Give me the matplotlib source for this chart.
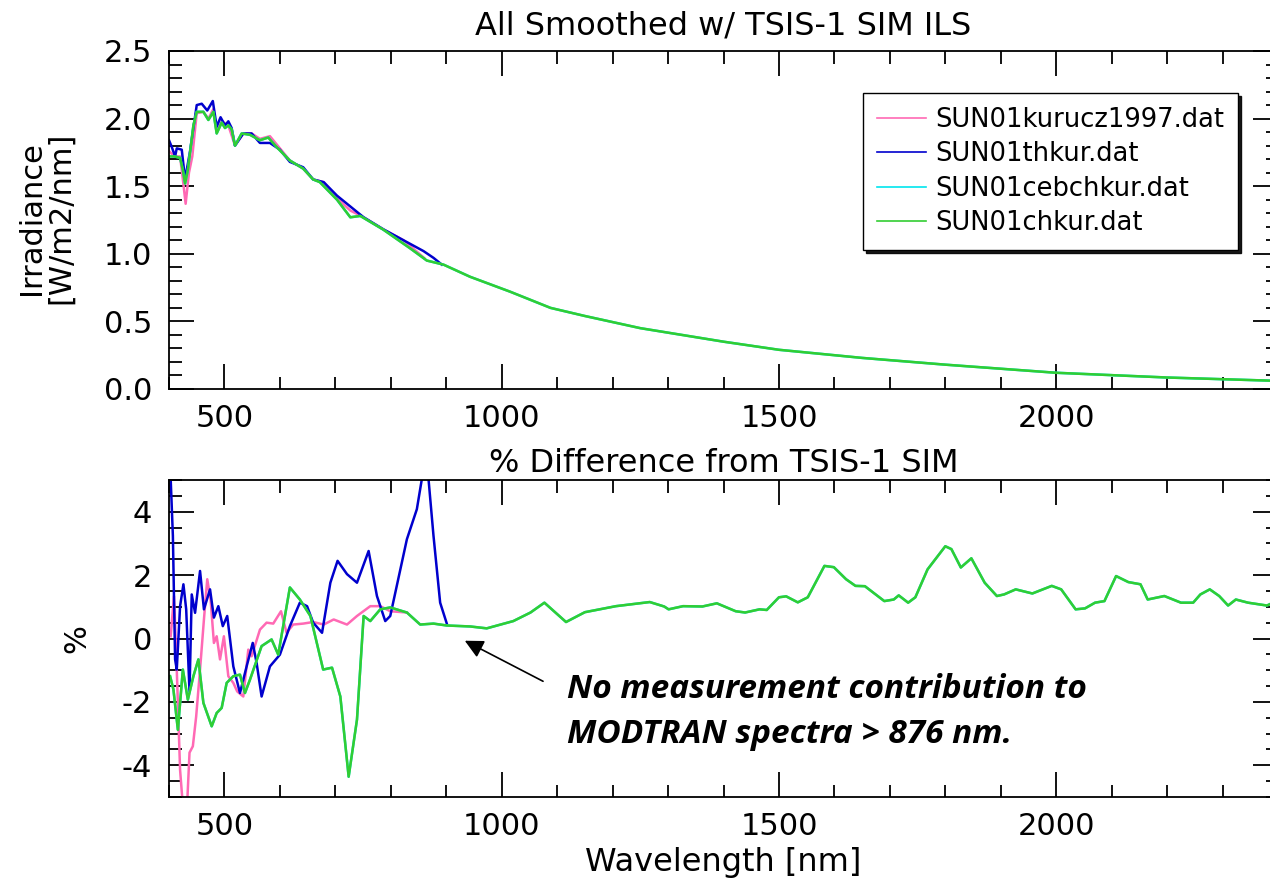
import numpy as np
import matplotlib
matplotlib.use("Agg")
import matplotlib.pyplot as plt
from matplotlib.ticker import MultipleLocator, FormatStrFormatter

plt.rcParams['font.family'] = ['DejaVu Sans']
plt.rcParams['axes.unicode_minus'] = False

# --- top panel: irradiance (W/m2/nm) ---
green_wl = [400, 410, 420, 425, 429, 434, 438, 444, 450, 462, 471, 480, 486, 495, 501, 507, 513, 519, 531, 546,
            564, 579, 594, 618, 642, 660, 672, 703, 727, 745, 786, 835, 865, 895, 943, 1015, 1088, 1150, 1250, 1400,
            1500, 1650, 1800, 2000, 2200, 2400]
green_irr = [1.72, 1.72, 1.71, 1.62, 1.52, 1.62, 1.75, 1.95, 2.05, 2.05, 1.99, 2.05, 1.89, 1.97, 1.93, 1.95, 1.92, 1.80, 1.89, 1.88,
             1.84, 1.86, 1.79, 1.69, 1.63, 1.55, 1.53, 1.40, 1.27, 1.28, 1.18, 1.04, 0.95, 0.92, 0.83, 0.72, 0.60, 0.54, 0.45, 0.35,
             0.29, 0.23, 0.18, 0.12, 0.085, 0.06]

blue_wl = [400, 405, 411, 414, 423, 429, 438, 450, 459, 469, 479, 486, 493, 501, 507, 513, 519, 534, 549, 564,
           582, 600, 618, 642, 660, 679, 703, 727, 751, 787, 823, 859, 877, 892]
blue_irr = [1.84, 1.79, 1.72, 1.78, 1.77, 1.55, 1.76, 2.10, 2.11, 2.06, 2.13, 1.94, 2.01, 1.95, 1.98, 1.93, 1.80, 1.89, 1.89, 1.82,
            1.82, 1.77, 1.68, 1.64, 1.55, 1.53, 1.43, 1.35, 1.27, 1.18, 1.10, 1.02, 0.97, 0.92]

pink_wl = [400, 410, 420, 425, 430, 436, 442, 450, 462, 471, 480, 486, 495, 507, 519, 534, 549, 564, 582, 600,
           618, 642, 660, 679, 703, 727, 751, 787, 823, 860]
pink_irr = [1.76, 1.72, 1.72, 1.55, 1.37, 1.60, 1.72, 2.04, 2.05, 2.00, 2.07, 1.90, 1.98, 1.95, 1.80, 1.89, 1.89, 1.85, 1.87, 1.78,
            1.69, 1.63, 1.55, 1.53, 1.41, 1.32, 1.27, 1.18, 1.10, 0.97]

# --- bottom panel: % difference from TSIS-1 SIM ---
green_dwl = [402, 408, 416, 425, 434, 444, 453, 462, 477, 486, 495, 504, 516, 528, 537, 546, 567, 585, 597, 618,
             636, 655, 678, 694, 709, 724, 739, 751, 763, 781, 799, 829, 853, 877, 901, 943, 973, 1021, 1052, 1077,
             1116, 1150, 1206, 1267, 1293, 1301, 1327, 1362, 1388, 1422, 1439, 1465, 1478, 1500, 1513, 1534, 1552, 1582, 1599, 1621,
             1638, 1655, 1690, 1707, 1716, 1733, 1746, 1768, 1800, 1811, 1828, 1847, 1871, 1893, 1906, 1927, 1957, 1992, 2009, 2035,
             2052, 2070, 2087, 2108, 2130, 2152, 2165, 2195, 2225, 2247, 2260, 2277, 2294, 2310, 2324, 2346, 2380, 2400]
green_pct = [-1.19, -1.61, -2.88, -0.98, -1.93, -1.19, -0.66, -2.03, -2.77, -2.35, -2.19, -1.40, -1.19, -1.14, -1.72, -1.30, -0.24, -0.03, -0.51, 1.61,
             1.23, 0.71, -0.98, -0.92, -1.83, -4.36, -2.56, 0.71, 0.55, 0.92, 0.98, 0.82, 0.44, 0.47, 0.41, 0.38, 0.32, 0.55, 0.82, 1.13,
             0.52, 0.83, 1.02, 1.15, 1.01, 0.92, 1.02, 1.01, 1.11, 0.86, 0.82, 0.92, 0.90, 1.30, 1.33, 1.14, 1.30, 2.29, 2.25, 1.87,
             1.66, 1.65, 1.18, 1.23, 1.36, 1.13, 1.30, 2.18, 2.91, 2.82, 2.24, 2.53, 1.76, 1.34, 1.39, 1.55, 1.42, 1.66, 1.55, 0.92,
             0.95, 1.13, 1.18, 1.97, 1.78, 1.71, 1.23, 1.34, 1.13, 1.13, 1.39, 1.55, 1.34, 1.04, 1.23, 1.13, 1.04, 1.2]

blue_dwl = [400, 402, 407, 411, 414, 420, 426, 431, 437, 441, 447, 456, 463, 474, 481, 489, 497, 505, 516, 528,
            540, 551, 558, 567, 582, 600, 618, 636, 649, 660, 676, 691, 704, 721, 739, 760, 775, 790, 799, 829,
            847, 856, 862, 868, 877, 889, 901]
blue_pct = [6.0, 5.5, 3.24, -0.66, -0.98, 1.02, 1.71, 0.92, -1.67, 1.39, 0.81, 2.13, 0.92, 1.55, 0.66, 1.02, 0.39, 0.71, -0.88, -1.72,
            -0.88, -0.14, -0.77, -1.83, -0.88, -0.51, 0.39, 1.13, 1.02, 0.50, 0.18, 1.76, 2.45, 2.03, 1.76, 2.76, 1.34, 0.55, 0.71, 3.13,
            4.08, 5.03, 5.3, 5.03, 3.24, 1.13, 0.47]

pink_dwl = [403, 409, 414, 420, 426, 432, 437, 443, 449, 456, 463, 469, 475, 481, 486, 492, 499, 507, 516, 523,
            534, 543, 549, 564, 576, 588, 602, 612, 624, 642, 660, 679, 697, 721, 739, 763, 781, 799, 829]
pink_pct = [0.07, 1.34, -0.98, -4.15, -5.5, -5.5, -3.6, -3.4, -2.46, -0.98, 0.60, 1.87, 1.23, -0.14, 0.07, -0.66, 0.07, -1.19, -1.40, -1.67,
            -1.83, -0.35, -0.56, 0.28, 0.50, 0.47, 0.86, 0.18, 0.44, 0.47, 0.52, 0.44, 0.60, 0.44, 0.71, 1.02, 1.02, 0.86, 0.82]

labels = ['SUN01kurucz1997.dat', 'SUN01thkur.dat', 'SUN01cebchkur.dat', 'SUN01chkur.dat']
colors = ['#ff69b4', '#0000cd', '#00e5ee', '#32cd32']

W, H = 1270, 880
fig = plt.figure(figsize=(W / 100, H / 100), dpi=100)
ax1 = fig.add_axes([169 / W, 1 - 389 / H, (1278 - 169) / W, 338 / H])
ax2 = fig.add_axes([169 / W, 1 - 797 / H, (1278 - 169) / W, 317 / H])

lw = 1.8
ax1.plot(pink_wl, pink_irr, color=colors[0], lw=lw, label=labels[0])
ax1.plot(blue_wl, blue_irr, color=colors[1], lw=lw, label=labels[1])
ax1.plot(green_wl, green_irr, color=colors[2], lw=lw, label=labels[2])
ax1.plot(green_wl, green_irr, color=colors[3], lw=lw, label=labels[3])

ax2.plot(pink_dwl, pink_pct, color=colors[0], lw=lw)
ax2.plot(blue_dwl, blue_pct, color=colors[1], lw=lw)
ax2.plot(green_dwl, green_pct, color=colors[2], lw=lw)
ax2.plot(green_dwl, green_pct, color=colors[3], lw=lw)

for ax in (ax1, ax2):
    ax.set_xlim(400, 2400)
    ax.xaxis.set_major_locator(MultipleLocator(500))
    ax.xaxis.set_minor_locator(MultipleLocator(100))
    ax.tick_params(which='both', direction='in', top=True, right=True, width=1.3, labelsize=22)
    ax.tick_params(which='major', length=18)
    ax.tick_params(which='minor', length=9)
    ax.tick_params(axis='x', pad=11)
    ax.tick_params(axis='y', pad=12)
    for s in ax.spines.values():
        s.set_linewidth(1.3)

ax1.set_ylim(0, 2.5)
ax1.yaxis.set_major_locator(MultipleLocator(0.5))
ax1.yaxis.set_minor_locator(MultipleLocator(0.1))
ax1.yaxis.set_major_formatter(FormatStrFormatter('%.1f'))
ax1.set_title('All Smoothed w/ TSIS-1 SIM ILS', fontsize=23, pad=12)
fig.text(46 / W, 1 - 218 / H, 'Irradiance\n[W/m2/nm]', rotation=90, fontsize=22,
         ha='center', va='center', linespacing=1.0)

ax2.set_ylim(-5, 5)
ax2.yaxis.set_major_locator(MultipleLocator(2))
ax2.yaxis.set_minor_locator(MultipleLocator(0.5))
ax2.set_title('% Difference from TSIS-1 SIM', fontsize=23, pad=6)
ax2.set_ylabel('%', fontsize=22, labelpad=22)
ax2.set_xlabel('Wavelength [nm]', fontsize=23, labelpad=4)

leg = ax1.legend(loc='upper left', bbox_to_anchor=(863 / W, 1 - 93 / H), bbox_transform=fig.transFigure,
                 borderaxespad=0, fontsize=18.5, frameon=True, fancybox=False, shadow={'color': 'k', 'alpha': 0.9},
                 handlelength=1.9, handletextpad=0.35, labelspacing=0.32, borderpad=0.55)
leg.get_frame().set_edgecolor('black')
leg.get_frame().set_linewidth(1.0)
for line in leg.get_lines():
    line.set_linewidth(1.2)

ax2.annotate('', xy=(929, -0.03), xytext=(1079, -1.39),
             arrowprops=dict(arrowstyle='-|>', color='k', lw=1.2, mutation_scale=28))
ax2.text(1118, -1.08, 'No measurement contribution to\nMODTRAN spectra > 876 nm.',
         fontsize=24, fontweight='bold', fontstyle='italic', family=['Open Sans', 'DejaVu Sans'],
         ha='left', va='top', linespacing=1.5)

fig.savefig('out.png', dpi=100)
